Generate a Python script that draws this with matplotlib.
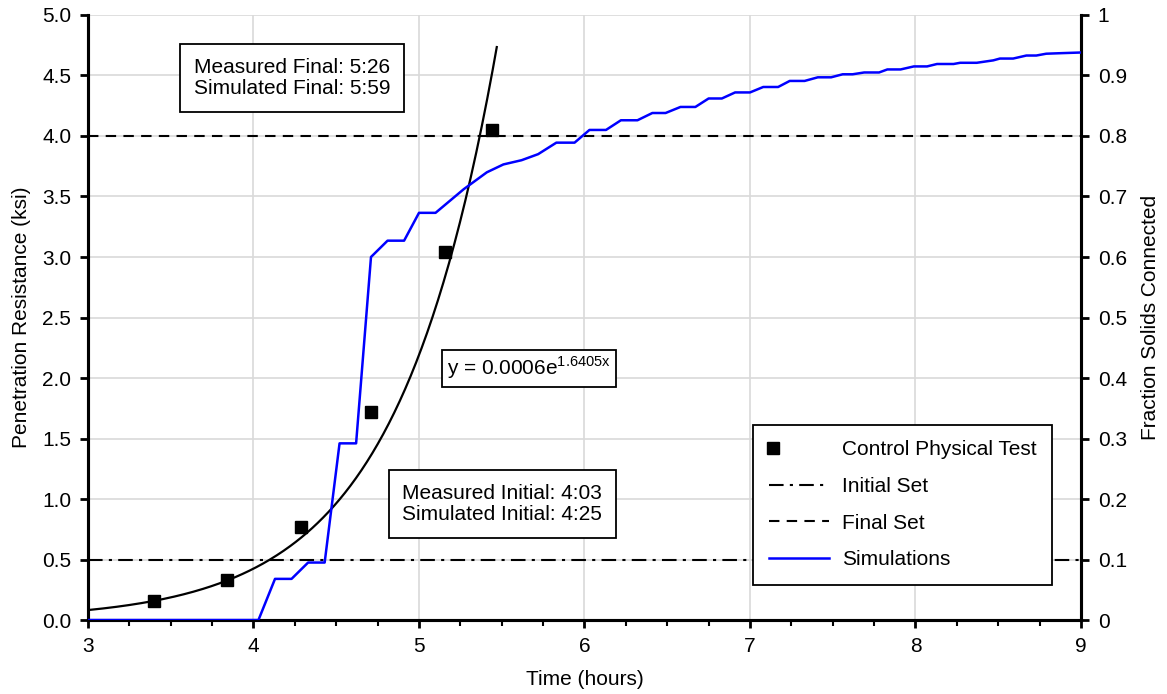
import matplotlib
matplotlib.use("Agg")
import matplotlib.pyplot as plt
import numpy as np
from matplotlib.lines import Line2D
from matplotlib.legend_handler import HandlerLine2D
from matplotlib.ticker import MultipleLocator, FormatStrFormatter, FuncFormatter

plt.rcParams['font.family'] = ['Liberation Sans', 'DejaVu Sans']
FS = 15
plt.rcParams['font.size'] = FS

# Penetration resistance measurements (control mix)
test_time = [3.40, 3.84, 4.29, 4.71, 5.16, 5.44]
test_resist = [0.16, 0.33, 0.77, 1.72, 3.04, 4.05]

# Exponential fit y = a * exp(b * x)
fit_a = 0.0006
fit_b = 1.6405
fit_range = [3.0, 5.47]

# Set thresholds (ksi)
initial_set = 0.5
final_set = 4.0

# Simulated fraction of solids connected
sim_time = [3.00, 4.03, 4.13, 4.23, 4.33, 4.43, 4.52, 4.62, 4.71, 4.81,
            4.91, 5.00, 5.10, 5.27, 5.41, 5.51, 5.62, 5.72, 5.83, 5.94,
            6.03, 6.13, 6.22, 6.32, 6.41, 6.49, 6.58, 6.67, 6.75, 6.83,
            6.91, 7.00, 7.08, 7.17, 7.24, 7.33, 7.41, 7.49, 7.56, 7.62,
            7.69, 7.78, 7.83, 7.91, 7.99, 8.07, 8.13, 8.23, 8.27, 8.37,
            8.47, 8.51, 8.59, 8.67, 8.73, 8.79, 8.89, 9.00]
sim_frac = [0.000, 0.000, 0.068, 0.068, 0.095, 0.095, 0.292, 0.292, 0.600, 0.627,
            0.627, 0.673, 0.673, 0.712, 0.740, 0.753, 0.760, 0.770, 0.789, 0.789,
            0.810, 0.810, 0.826, 0.826, 0.838, 0.838, 0.848, 0.848, 0.862, 0.862,
            0.872, 0.872, 0.881, 0.881, 0.891, 0.891, 0.897, 0.897, 0.902, 0.902,
            0.905, 0.905, 0.910, 0.910, 0.915, 0.915, 0.919, 0.919, 0.921, 0.921,
            0.925, 0.928, 0.928, 0.933, 0.933, 0.936, 0.937, 0.938]

measured_text = "Measured Final: 5:26\nSimulated Final: 5:59"
initial_text = "Measured Initial: 4:03\nSimulated Initial: 4:25"
eqn_text = "y = 0.0006e$^{\\mathregular{1.6405x}}$"


class LeftMarkerHandler(HandlerLine2D):
    """Legend handler placing a single marker at the left of the handle box."""

    def get_xdata(self, legend, xdescent, ydescent, width, height, fontsize):
        x0 = -xdescent + 0.06 * width
        xdata = np.array([x0 - 1.0, x0 + 1.0], float)
        return xdata, np.array([x0])


fig = plt.figure(figsize=(11.67, 6.94), dpi=100)
ax = fig.add_axes([0.0754, 0.1066, 0.8509, 0.8718])
ax2 = ax.twinx()

ax.set_xlim(3, 9)
ax.set_ylim(0, 5)
ax2.set_ylim(0, 1)

# grid and ticks
ax.xaxis.set_major_locator(MultipleLocator(1))
ax.xaxis.set_minor_locator(MultipleLocator(0.25))
ax.yaxis.set_major_locator(MultipleLocator(0.5))
ax2.yaxis.set_major_locator(MultipleLocator(0.1))
ax.grid(True, which='major', color='#d9d9d9', lw=1.2, zorder=0)
ax.set_axisbelow(True)
ax.yaxis.set_major_formatter(FormatStrFormatter('%.1f'))
ax2.yaxis.set_major_formatter(FuncFormatter(
    lambda v, p: '0' if abs(v) < 1e-9 else ('1' if abs(v - 1) < 1e-9 else f'{v:.1f}')))

# threshold lines
ax.axhline(initial_set, color='black', lw=1.5, ls=(0, (7, 3, 1.5, 3)), zorder=2)
ax.axhline(final_set, color='black', lw=1.5, ls=(0, (5, 3.5)), zorder=2)

# fit curve
xf = np.linspace(fit_range[0], fit_range[1], 300)
ax.plot(xf, fit_a * np.exp(fit_b * xf), color='black', lw=1.6, zorder=3)

# measurements
ax.plot(test_time, test_resist, ls='none', marker='s', ms=8.5, color='black', zorder=4)

# simulations on secondary axis
ax2.plot(sim_time, sim_frac, color='#0000ff', lw=1.8, zorder=3)

for a in (ax, ax2):
    for s in a.spines.values():
        s.set_linewidth(2.2)
    a.spines['top'].set_visible(False)
ax.tick_params(which='major', direction='out', length=6, width=2, pad=6, labelsize=FS)
ax.tick_params(which='minor', direction='out', length=4, width=1.5)
ax2.tick_params(which='major', direction='out', length=6, width=2, pad=6, labelsize=FS)

ax.set_xlabel("Time (hours)", fontsize=FS, labelpad=10)
ax.set_ylabel("Penetration Resistance (ksi)", fontsize=FS, labelpad=8)
ax2.set_ylabel("Fraction Solids Connected", fontsize=FS, labelpad=10)

ax2.text(0.2054, 0.896, measured_text, transform=ax.transAxes, ha='center', va='center',
         fontsize=FS, bbox=dict(boxstyle='square,pad=0.65', fc='white', ec='black', lw=1.3),
         linespacing=1.15, zorder=6)
ax2.text(0.417, 0.192, initial_text, transform=ax.transAxes, ha='center', va='center',
         fontsize=FS, bbox=dict(boxstyle='square,pad=0.65', fc='white', ec='black', lw=1.3),
         linespacing=1.15, zorder=6)
ax2.text(0.444, 0.4165, eqn_text, transform=ax.transAxes, ha='center', va='center',
         fontsize=FS, bbox=dict(boxstyle='square,pad=0.25', fc='white', ec='black', lw=1.3),
         zorder=6)

marker_handle = Line2D([], [], ls='none', marker='s', ms=8.5, color='black')
handles = [
    marker_handle,
    Line2D([], [], color='black', lw=1.5, ls=(0, (7, 3, 1.5, 3))),
    Line2D([], [], color='black', lw=1.5, ls=(0, (5, 3.5))),
    Line2D([], [], color='#0000ff', lw=1.8),
]
labels = ["Control Physical Test", "Initial Set", "Final Set", "Simulations"]
leg = ax2.legend(handles, labels, loc='lower left', bbox_to_anchor=(0.67, 0.058),
                 borderaxespad=0, frameon=True, fancybox=False, edgecolor='black',
                 framealpha=1, fontsize=FS, handlelength=2.9, labelspacing=0.85,
                 borderpad=0.75, handletextpad=0.6,
                 handler_map={marker_handle: LeftMarkerHandler()})
leg.get_frame().set_linewidth(1.3)
leg.set_zorder(10)

fig.savefig("out.png", dpi=100)
